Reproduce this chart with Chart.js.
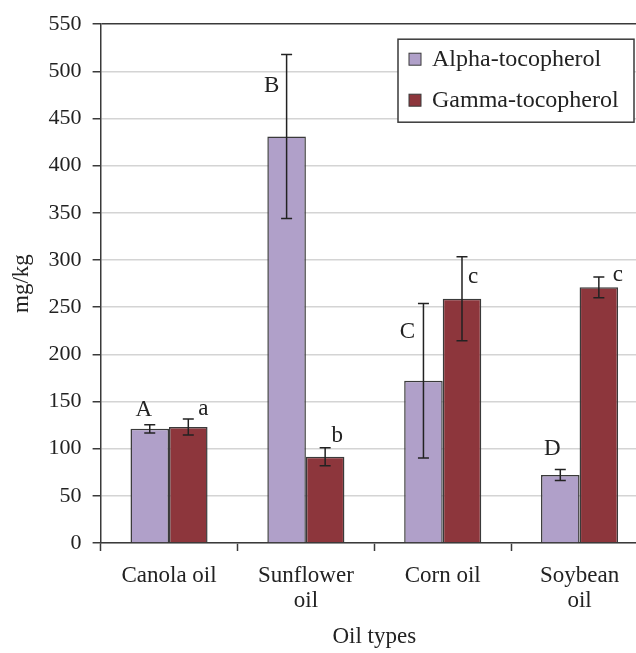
<!DOCTYPE html>
<html>
  <head>
    <meta charset="utf-8" />
    <title>Tocopherol content by oil type</title>
    <script src="https://cdn.jsdelivr.net/npm/chart.js@4"></script>
    <style>
      html, body { margin: 0; padding: 0; overflow: hidden; background: #fff; }
    </style>
  </head>
  <body>
    <canvas id="myChart" width="660" height="653"></canvas>
    <script>
      const categories = [["Canola oil"], ["Sunflower", "oil"], ["Corn oil"], ["Soybean", "oil"]];
      const alphaValues = [121, 431, 172, 72];
      const alphaErrors = [4.4, 87, 82, 5.8];
      const gammaValues = [123, 91.5, 259, 271];
      const gammaErrors = [8.4, 9.5, 44.5, 11];
      const alphaLetters = ["A", "B", "C", "D"];
      const gammaLetters = ["a", "b", "c", "c"];

      const FONT = "'Liberation Serif', 'DejaVu Serif', serif";
      const DARK = "#3a3a3a";

      // letter placement relative to bar centre / error bar tip (px)
      const letterOffsets = [
        [[-6, -15], [-15, 32], [-16, 29], [-8, -21]],
        [[15, -10], [12, -12], [11, 20], [19, -2]],
      ];

      const errorBars = {
        id: "errorBars",
        afterDatasetsDraw(chart) {
          const ctx = chart.ctx;
          const y = chart.scales.y;
          const errs = [alphaErrors, gammaErrors];
          const letters = [alphaLetters, gammaLetters];
          chart.data.datasets.forEach((ds, di) => {
            const meta = chart.getDatasetMeta(di);
            meta.data.forEach((bar, i) => {
              const v = ds.data[i];
              const top = y.getPixelForValue(v + errs[di][i]);
              const bot = y.getPixelForValue(v - errs[di][i]);
              ctx.save();
              ctx.strokeStyle = "#222";
              ctx.lineWidth = 1.5;
              ctx.beginPath();
              ctx.moveTo(bar.x, top);
              ctx.lineTo(bar.x, bot);
              ctx.moveTo(bar.x - 5.5, top);
              ctx.lineTo(bar.x + 5.5, top);
              ctx.moveTo(bar.x - 5.5, bot);
              ctx.lineTo(bar.x + 5.5, bot);
              ctx.stroke();
              const off = letterOffsets[di][i];
              ctx.fillStyle = "#222";
              ctx.font = "23px " + FONT;
              ctx.textAlign = "center";
              ctx.textBaseline = "middle";
              ctx.fillText(letters[di][i], bar.x + off[0], top + off[1]);
              ctx.restore();
            });
          });
        },
      };

      const boxLegend = {
        id: "boxLegend",
        afterDraw(chart) {
          const ctx = chart.ctx;
          const area = chart.chartArea;
          const right = area.right - 14;
          const left = right - 236;
          const top = area.top + 15;
          const h = 83;
          ctx.save();
          ctx.fillStyle = "#fff";
          ctx.fillRect(left, top, right - left, h);
          ctx.strokeStyle = DARK;
          ctx.lineWidth = 1.5;
          ctx.strokeRect(left, top, right - left, h);
          ctx.font = "24px " + FONT;
          ctx.textBaseline = "middle";
          ctx.textAlign = "left";
          chart.data.datasets.forEach((ds, i) => {
            const cy = top + 20 + i * 41;
            ctx.fillStyle = ds.backgroundColor;
            ctx.fillRect(left + 11, cy - 6, 12, 12);
            ctx.lineWidth = 1;
            ctx.strokeStyle = DARK;
            ctx.strokeRect(left + 11, cy - 6, 12, 12);
            ctx.fillStyle = "#222";
            ctx.fillText(ds.label, left + 34, cy + 1);
          });
          ctx.restore();
        },
      };

      const data = {
        labels: categories,
        datasets: [
          {
            label: "Alpha-tocopherol",
            data: alphaValues,
            backgroundColor: "#b0a0c9",
            borderColor: DARK,
            borderWidth: 1.5,
          },
          {
            label: "Gamma-tocopherol",
            data: gammaValues,
            backgroundColor: "#8d363c",
            borderColor: DARK,
            borderWidth: 1.5,
          },
        ],
      };

      const config = {
        type: "bar",
        data: data,
        plugins: [errorBars, boxLegend],
        options: {
          responsive: false,
          animation: false,
          devicePixelRatio: 1,
          layout: { padding: { top: 21, right: 12, left: 0, bottom: 0 } },
          datasets: { bar: { categoryPercentage: 0.5633, barPercentage: 1 } },
          plugins: {
            legend: { display: false },
            tooltip: { enabled: false },
          },
          scales: {
            x: {
              grid: {
                offset: true,
                drawOnChartArea: false,
                tickLength: 8,
                tickColor: DARK,
                tickWidth: 1.5,
              },
              border: { color: DARK, width: 1.5 },
              ticks: {
                color: "#222",
                font: { family: FONT, size: 23, lineHeight: 1.1 },
                padding: 12,
                maxRotation: 0,
              },
              title: {
                display: true,
                text: "Oil types",
                color: "#222",
                font: { family: FONT, size: 23 },
                padding: { top: 0, bottom: 2 },
              },
              afterFit(scale) {
                scale.height = 110;
              },
            },
            y: {
              min: 0,
              max: 550,
              ticks: {
                stepSize: 50,
                color: "#222",
                font: { family: FONT, size: 22 },
                padding: 11,
              },
              grid: {
                color: (c) => (c.tick && c.tick.value === 550 ? DARK : "#d4d4d4"),
                lineWidth: 1.5,
                tickLength: 8,
                tickColor: DARK,
              },
              border: { color: DARK, width: 1.5 },
              title: {
                display: true,
                text: "mg/kg",
                color: "#222",
                font: { family: FONT, size: 23 },
                padding: { top: 8, bottom: 0 },
              },
              afterFit(scale) {
                scale.width = 100.6;
              },
            },
          },
        },
      };
      const ctx = document.getElementById("myChart");
      const myChart = new Chart(ctx, config);
    </script>
  </body>
</html>
